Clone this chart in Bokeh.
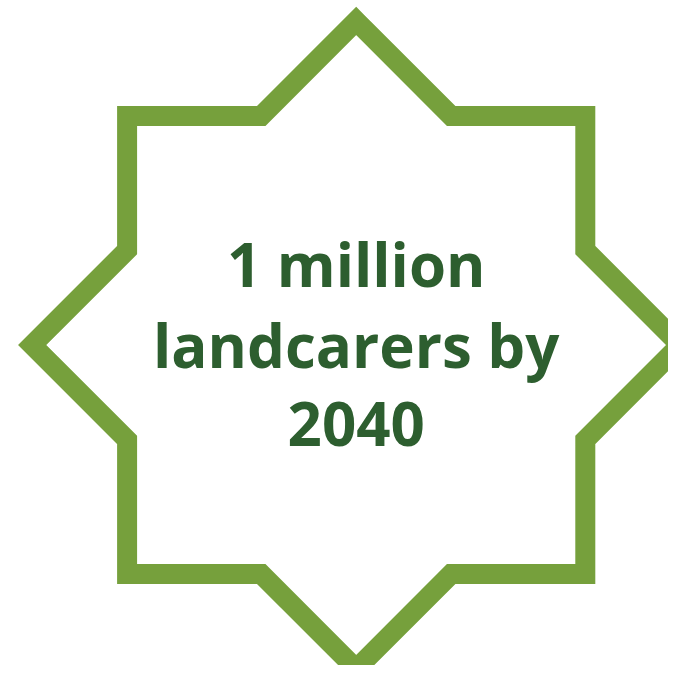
import numpy as np
from bokeh.plotting import figure
from bokeh.models import Range1d
from bokeh.core.properties import value
from bokeh.embed import file_html
from bokeh.resources import INLINE

# Content
lines = ["1 million", "landcarers by", "2040"]
line_centers = [263, 344, 423]

# Star geometry (regular 8-pointed star, in page pixels)
star_points = 8
star_center = (355.7, 344.5)
star_outer_r = 324.0

ratio = np.cos(np.pi / 4) / np.cos(np.pi / 8)
angles = np.arange(2 * star_points) * np.pi / star_points
radii = np.where(np.arange(2 * star_points) % 2 == 0, star_outer_r, star_outer_r * ratio)
xs = star_center[0] + radii * np.sin(angles)
ys = star_center[1] - radii * np.cos(angles)

p = figure(width=668, height=665, output_backend="svg", toolbar_location=None,
           x_range=Range1d(0, 668), y_range=Range1d(665, 0),
           min_border=0, background_fill_color="white", border_fill_color="white")
p.axis.visible = False
p.grid.visible = False
p.outline_line_color = None

p.patch(xs, ys, fill_color="white", line_color="#76a03c", line_width=20, line_join="miter")

p.text(x=[355.7] * len(lines), y=line_centers, text=lines,
       text_font=value("Open Sans"), text_font_style="bold", text_font_size="60px",
       text_color="#2d5e2f", text_align="center", text_baseline="alphabetic")

open("out.html", "w").write(file_html(p, INLINE))
